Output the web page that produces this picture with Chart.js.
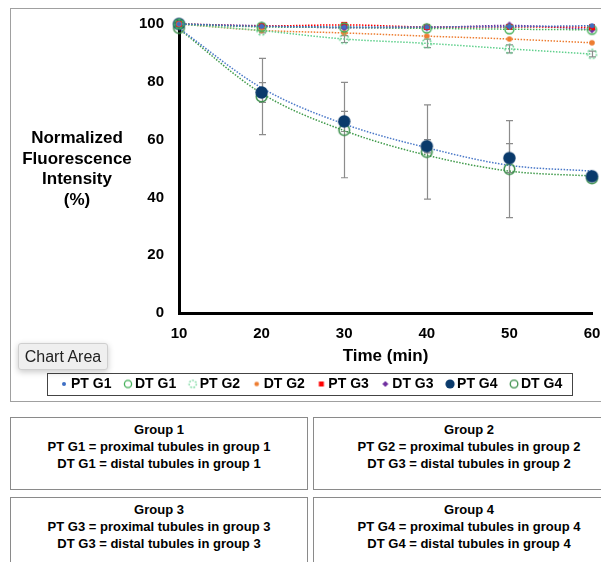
<!DOCTYPE html>
<html><head><meta charset="utf-8">
<script src="https://cdn.jsdelivr.net/npm/chart.js@4.4.0/dist/chart.umd.min.js"></script>
<style>
html,body{margin:0;padding:0;background:#fff;overflow:hidden;width:601px;height:562px;}
body{position:relative;font-family:"Liberation Sans",Arial,Helvetica,sans-serif;}
#frame{position:absolute;left:10px;top:8px;width:620px;height:392px;border:1px solid #a0a0a0;}
#wrap{position:absolute;left:0;top:0;width:601px;height:401px;}
#ytitle{position:absolute;left:0;top:128px;width:154px;text-align:center;font-weight:bold;font-size:17px;line-height:20.5px;color:#000;}
#tip{position:absolute;left:18px;top:343px;width:88px;height:25px;background:#efefef;border:1px solid #cfcfcf;border-radius:3px;box-shadow:0 2px 6px rgba(0,0,0,0.22);font-size:16px;line-height:25px;color:#222;text-align:center;}
.box{position:absolute;border:1px solid #8a8a8a;text-align:center;font-weight:bold;font-size:13px;line-height:17px;color:#000;padding-top:3px;box-sizing:border-box;background:#fff;}
</style></head>
<body>
<div id="frame"></div>
<div id="wrap"><canvas id="c" width="601" height="401"></canvas></div>
<div id="ytitle">Normalized<br>Fluorescence<br>Intensity<br>(%)</div>
<div id="tip">Chart Area</div>
<div class="box" style="left:10px;top:417px;width:298px;height:73px;">Group 1<br>PT G1 = proximal tubules in group 1<br>DT G1 = distal tubules in group 1</div>
<div class="box" style="left:313px;top:417px;width:312px;height:73px;">Group 2<br>PT G2 = proximal tubules in group 2<br>DT G3 = distal tubules in group 2</div>
<div class="box" style="left:10px;top:497px;width:298px;height:80px;">Group 3<br>PT G3 = proximal tubules in group 3<br>DT G3 = distal tubules in group 3</div>
<div class="box" style="left:313px;top:497px;width:312px;height:80px;">Group 4<br>PT G4 = proximal tubules in group 4<br>DT G4 = distal tubules in group 4</div>
<script>
// ---- data ----
const timeMin = [10, 20, 30, 40, 50, 60];
const seriesNames = ['PT G1','DT G1','PT G2','DT G2','PT G3','DT G3','PT G4','DT G4'];
const ptG1 = [100, 99.2, 99.0, 99.0, 99.1, 99.4];
const dtG1 = [100, 99.0, 98.8, 98.5, 98.2, 98.0];
const ptG2 = [100, 97.7, 94.8, 93.3, 91.4, 89.6];
const dtG2 = [100, 97.8, 96.9, 95.8, 94.8, 93.5];
const ptG3 = [100, 99.3, 99.7, 99.0, 99.0, 98.9];
const dtG3 = [100, 99.4, 98.7, 98.8, 99.5, 98.1];
const ptG4 = [100, 76.3, 66.3, 57.7, 53.6, 47.3];
const dtG4 = [98.6, 74.9, 63.3, 55.7, 49.8, 46.6];
const ptG4Trend = [98.5, 77.9, 65.4, 57.2, 51.1, 49.1];
const dtG4Trend = [98.3, 76.0, 63.1, 54.6, 49.1, 47.4];
const errPtG2 = [0, 0.8, 1.2, 1.5, 1.4, 1.0];
const errPtG4 = [0, 3.4, 3.5, 2.3, 5.0, 0];
const errDtG4 = [0, 13.2, 16.5, 16.3, 16.8, 0];
const xTicks = [10, 20, 30, 40, 50, 60];
const yTicks = [0, 20, 40, 60, 80, 100];

// ---- marker images ----
function mk(w, h, draw, dx){const c=document.createElement('canvas');c.width=w;c.height=h;const g=c.getContext('2d');draw(g,w/2+(dx||0),h/2);return c;}
const dot=(r,col,W,dx)=>mk(W||Math.ceil(2*r+2),Math.ceil(2*r+2),(g,cx,cy)=>{g.fillStyle=col;g.beginPath();g.arc(cx,cy,r,0,Math.PI*2);g.fill();},dx);
const ring=(r,col,lw,dash,W,dx)=>mk(W||Math.ceil(2*r+lw+2),Math.ceil(2*r+lw+2),(g,cx,cy)=>{g.strokeStyle=col;g.lineWidth=lw;if(dash)g.setLineDash(dash);g.beginPath();g.arc(cx,cy,r,0,Math.PI*2);g.stroke();},dx);
const sq=(s,col,W,dx)=>mk(W||s+2,s+2,(g,cx,cy)=>{g.fillStyle=col;g.fillRect(cx-s/2,cy-s/2,s,s);},dx);
const dia=(s,col,W,dx)=>mk(W||s+2,s+2,(g,cx,cy)=>{g.fillStyle=col;g.beginPath();g.moveTo(cx,cy-s/2);g.lineTo(cx+s/2,cy);g.lineTo(cx,cy+s/2);g.lineTo(cx-s/2,cy);g.closePath();g.fill();},dx);

const C = {
  ptG1:'#3f6fc4', dtG1:'#46b05a', ptG2:'#5fd08c', dtG2:'#ed7d31',
  ptG3:'#ff0000', dtG3:'#7030a0', ptG4:'#0a3a6b', dtG4:'#3a8f4a',
  trendPt4:'#4a78c8', trendDt4:'#3f9a4a'
};
const chartMarks = [dot(2.5,C.ptG1), ring(4.5,C.dtG1,1.4), ring(4.5,C.ptG2,1.4,[2,2]), dot(2.8,C.dtG2), sq(6,C.ptG3), dia(8,C.dtG3), dot(6.2,C.ptG4), ring(5.3,C.dtG4,1.5)];
// legend markers: drawn 2px right of the image centre so they sit close to their text
const LW = 16, LD = 2;
const legendMarks = [dot(2,C.ptG1,LW,LD), ring(3.6,C.dtG1,1.3,null,LW,LD), ring(3.6,C.ptG2,1.3,[1.6,1.6],LW,LD), dot(2.3,C.dtG2,LW,LD), sq(5,C.ptG3,LW,LD), dia(6,C.dtG3,LW,LD), dot(4.6,C.ptG4,LW,LD), ring(3.8,C.dtG4,1.3,null,LW,LD)];

const pts = arr => timeMin.map((t,i)=>({x:t,y:arr[i]}));
const lineColors = [C.ptG1,C.dtG1,C.ptG2,C.dtG2,C.ptG3,C.dtG3,C.ptG4,C.dtG4];
const values = [ptG1,dtG1,ptG2,dtG2,ptG3,dtG3,ptG4,dtG4];

const datasets = values.map((v,i)=>({
  label: seriesNames[i],
  data: pts(v),
  pointStyle: chartMarks[i],
  pointRadius: 5,
  borderColor: lineColors[i],
  backgroundColor: lineColors[i],
  borderWidth: 1.5,
  borderDash: [1.5,1.5],
  showLine: i < 6,
  cubicInterpolationMode: 'monotone',
  clip: false
}));
datasets.push({label:'', data: pts(ptG4Trend), pointRadius:0, borderColor:C.trendPt4, borderWidth:1.5, borderDash:[1.5,1.5], showLine:true, cubicInterpolationMode:'monotone', clip:false});
datasets.push({label:'', data: pts(dtG4Trend), pointRadius:0, borderColor:C.trendDt4, borderWidth:1.5, borderDash:[1.5,1.5], showLine:true, cubicInterpolationMode:'monotone', clip:false});

const errorSets = [{ds:2, err:errPtG2}, {ds:6, err:errPtG4}, {ds:7, err:errDtG4}];
const errorBars = {
  id:'errorBars',
  beforeDatasetsDraw(chart){
    const {ctx, scales:{x, y}} = chart;
    ctx.save();
    ctx.strokeStyle = '#8c8c8c'; ctx.lineWidth = 1.2;
    errorSets.forEach(s=>{
      const v = values[s.ds];
      timeMin.forEach((t,i)=>{
        const e = s.err[i]; if(!e) return;
        const px = Math.round(x.getPixelForValue(t))+0.5;
        const y1 = y.getPixelForValue(v[i]+e), y2 = y.getPixelForValue(v[i]-e);
        ctx.beginPath();
        ctx.moveTo(px,y1); ctx.lineTo(px,y2);
        ctx.moveTo(px-3.5,y1); ctx.lineTo(px+3.5,y1);
        ctx.moveTo(px-3.5,y2); ctx.lineTo(px+3.5,y2);
        ctx.stroke();
      });
    });
    ctx.restore();
  }
};
const LEGEND_FIRST_BOX = 60; // left of first legend item box (px)
const legendPlace = {
  id:'legendPlace',
  afterUpdate(chart){
    const L = chart.legend; const hb = L && L.legendHitBoxes; if(!hb || !hb.length) return;
    const d = LEGEND_FIRST_BOX - hb[0].left;
    if (Math.abs(d) > 0.01) {
      const tops = hb.map(h=>h.top);
      L.left += d; L.right += d; L.adjustHitBoxes();
      hb.forEach((h,i)=>{ h.top = tops[i]; });
    }
  },
  afterDraw(chart){
    const L = chart.legend; const hb = L.legendHitBoxes; if(!hb || !hb.length) return;
    const last = hb[hb.length-1];
    const left = hb[0].left - 13, right = last.left + last.width + 10;
    const pad = L.options.labels.padding;
    const cy = L.top + pad + hb[0].height/2;
    const ctx = chart.ctx; ctx.save();
    ctx.strokeStyle = '#444'; ctx.lineWidth = 1;
    ctx.strokeRect(Math.round(left)+0.5, Math.round(cy-11)+0.5, Math.round(right-left), 22);
    ctx.restore();
  }
};

const FONT = '"Liberation Sans", Arial, Helvetica, sans-serif';
new Chart(document.getElementById('c'), {
  type: 'scatter',
  data: { datasets },
  plugins: [errorBars, legendPlace],
  options: {
    responsive: false, animation: false, devicePixelRatio: 1,
    layout: { padding: { top: 22, right: 9, bottom: 0, left: 0 } },
    plugins: {
      tooltip: { enabled: false },
      legend: {
        position: 'bottom',
        labels: {
          usePointStyle: true, boxWidth: 4, boxHeight: 4, padding: 12.5,
          color: '#000', font: { family: FONT, size: 14, weight: 'bold' },
          filter: it => it.text !== '',
          generateLabels(chart){
            const items = Chart.defaults.plugins.legend.labels.generateLabels(chart);
            items.forEach(it=>{ if (it.datasetIndex < 8) it.pointStyle = legendMarks[it.datasetIndex]; });
            return items;
          }
        }
      }
    },
    scales: {
      x: {
        type: 'linear', min: 10, max: 60,
        afterBuildTicks: s => { s.ticks = xTicks.map(v=>({value:v})); },
        afterFit: s => { s.height = 51.5; s.paddingRight = 9; s.paddingLeft = 0; },
        grid: { display: false, drawTicks: false },
        border: { display: true, color: '#000', width: 3 },
        ticks: { color: '#000', padding: 12, font: { family: FONT, size: 15, weight: 'bold' } },
        title: { display: true, text: 'Time (min)', color: '#000', padding: { top: 0, bottom: -2 }, font: { family: FONT, size: 17, weight: 'bold' } }
      },
      y: {
        type: 'linear', min: 0, max: 100,
        afterBuildTicks: s => { s.ticks = yTicks.map(v=>({value:v})); },
        afterFit: s => { s.width = 179; },
        grid: { display: false, drawTicks: false },
        border: { display: true, color: '#000', width: 3 },
        ticks: { color: '#000', padding: 15, font: { family: FONT, size: 15, weight: 'bold' } }
      }
    }
  }
});
</script>
</body></html>
